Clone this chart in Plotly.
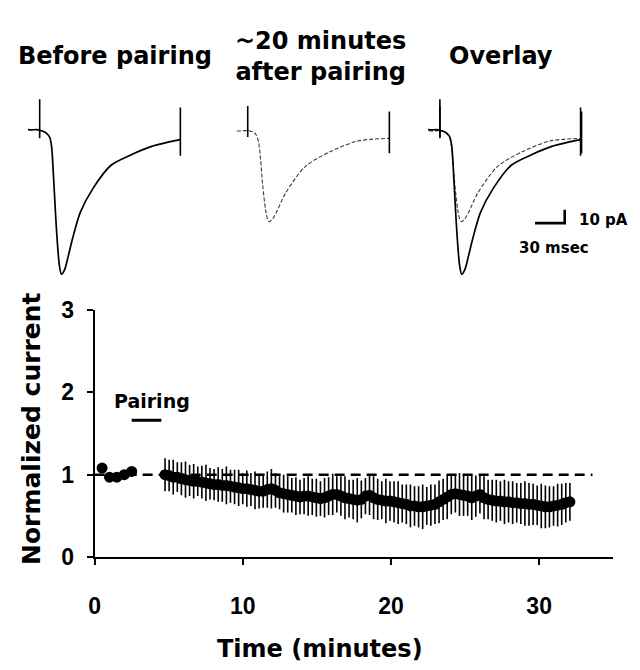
import plotly.graph_objects as go

# ---------------------------------------------------------------- data
# Example EPSCs (time in ms from stimulus, current in pA re: baseline)
before_ms = [-12, -8, -3, 0, 4, 8, 10, 12, 14, 16, 18, 20, 22, 25, 29, 33, 41, 54, 72, 93, 113, 142]
before_pa = [0.5, 0.3, 0.5, 0.0, -1, -3, -5, -12, -35, -62, -85, -101, -107, -104, -93, -81, -61, -43, -26, -18, -12, -7]
after_ms = [-11, -6, -2, 0, 4, 7, 9, 11, 13, 15, 18, 20, 22, 25, 29, 38, 58, 83, 111, 143]
after_pa = [-0.5, -0.5, -0.3, 0.0, -1, -2, -4, -9, -22, -40, -59, -66, -68, -66, -61, -47, -27, -16, -8, -6]

# Stimulus artifacts: (time ms, top pA, bottom pA)
before_artifacts = [(0, 23, -6), (142, 17, -19)]
after_artifacts = [(0, 18, -5), (143, 14, -17)]

# Scale bar sizes
SCALE_MS = 30
SCALE_PA = 10

# Time course: baseline samples (min) and normalized current
base_t = [0.5, 1.0, 1.5, 2.0, 2.5]
base_mean = [1.08, 0.97, 0.97, 1.00, 1.04]

# Post-pairing samples
POST_START_MIN = 4.75
SAMPLE_INTERVAL_MIN = 0.276
post_mean = [
    1.00, 0.99, 0.97, 0.97, 0.95, 0.94, 0.93, 0.92, 0.92, 0.91,
    0.90, 0.89, 0.88, 0.88, 0.87, 0.87, 0.86, 0.85, 0.84, 0.83,
    0.83, 0.82, 0.81, 0.80, 0.80, 0.82, 0.83, 0.81, 0.78, 0.77,
    0.76, 0.75, 0.74, 0.73, 0.74, 0.74, 0.73, 0.72, 0.71, 0.72,
    0.74, 0.76, 0.76, 0.74, 0.72, 0.71, 0.70, 0.69, 0.70, 0.74,
    0.75, 0.72, 0.70, 0.69, 0.68, 0.68, 0.67, 0.66, 0.65, 0.64,
    0.62, 0.62, 0.61, 0.61, 0.62, 0.63, 0.64, 0.67, 0.70, 0.73,
    0.76, 0.77, 0.76, 0.75, 0.74, 0.72, 0.74, 0.76, 0.72, 0.70,
    0.69, 0.68, 0.68, 0.67, 0.67, 0.66, 0.66, 0.65, 0.65, 0.64,
    0.64, 0.63, 0.62, 0.61, 0.61, 0.62, 0.63, 0.64, 0.66, 0.67,
]
post_sem = [
    0.20, 0.19, 0.21, 0.18, 0.20, 0.22, 0.19, 0.21, 0.18, 0.20,
    0.22, 0.19, 0.19, 0.21, 0.20, 0.23, 0.20, 0.21, 0.22, 0.19,
    0.22, 0.20, 0.23, 0.21, 0.20, 0.22, 0.24, 0.21, 0.20, 0.23,
    0.22, 0.21, 0.23, 0.21, 0.22, 0.24, 0.22, 0.23, 0.21, 0.24,
    0.23, 0.25, 0.22, 0.24, 0.26, 0.23, 0.24, 0.27, 0.23, 0.22,
    0.24, 0.26, 0.25, 0.23, 0.27, 0.24, 0.25, 0.26, 0.23, 0.24,
    0.26, 0.24, 0.25, 0.27, 0.23, 0.25, 0.24, 0.26, 0.25, 0.27,
    0.24, 0.23, 0.26, 0.25, 0.24, 0.27, 0.25, 0.23, 0.26, 0.24,
    0.25, 0.26, 0.24, 0.27, 0.25, 0.26, 0.24, 0.25, 0.27, 0.26,
    0.25, 0.24, 0.27, 0.26, 0.25, 0.24, 0.26, 0.25, 0.24, 0.23,
]
post_t = [round(POST_START_MIN + i * SAMPLE_INTERVAL_MIN, 3) for i in range(len(post_mean))]

pairing_window = [2.5, 4.5]
pairing_level = 1.66
reference_level = 1.0
reference_end = 33.6

x_ticks = [0, 10, 20, 30]
y_ticks = [0, 1, 2, 3]

# ---------------------------------------------------------------- layout helpers
W, H = 640, 670


def px(x):
    return x / W


def py(y):
    return 1 - y / H


TITLE_FONT = dict(family="DejaVu Sans", size=24, color="black", weight="bold")
TICK_FONT = dict(family="Liberation Sans", size=23, color="black", weight="bold")

fig = go.Figure()

# ---------------------------------------------------------------- example traces
panels = [("x2", [(before_ms, before_pa, "before")], [before_artifacts]),
          ("x3", [(after_ms, after_pa, "after")], [after_artifacts]),
          ("x4", [(after_ms, after_pa, "after"), (before_ms, before_pa, "before")],
           [after_artifacts, before_artifacts])]

for xa, series, arts in panels:
    for t, pa, kind in series:
        if kind == "before":
            line = dict(color="black", width=1.7, shape="spline", smoothing=0.8)
        else:
            line = dict(color="#3a3a3a", width=1.1, dash="4px,2px", shape="spline", smoothing=0.8)
        fig.add_trace(go.Scatter(x=t, y=pa, mode="lines", line=line,
                                 xaxis=xa, yaxis="y2", showlegend=False, hoverinfo="skip"))
    for art in arts:
        for ta, top, bot in art:
            fig.add_trace(go.Scatter(x=[ta, ta], y=[top, bot], mode="lines",
                                     line=dict(color="black", width=1.6),
                                     xaxis=xa, yaxis="y2", showlegend=False, hoverinfo="skip"))

# scale bar in the overlay panel
sb_t0, sb_pa0 = 96, -69
fig.add_trace(go.Scatter(x=[sb_t0, sb_t0 + SCALE_MS, sb_t0 + SCALE_MS],
                         y=[sb_pa0, sb_pa0, sb_pa0 + SCALE_PA],
                         mode="lines", line=dict(color="black", width=2.6),
                         xaxis="x4", yaxis="y2", showlegend=False, hoverinfo="skip"))

# ---------------------------------------------------------------- time course
fig.add_shape(type="line", xref="x", yref="y", x0=0, x1=reference_end,
              y0=reference_level, y1=reference_level,
              line=dict(color="black", width=2.4, dash="10px,6px"), layer="below")
fig.add_shape(type="line", xref="x", yref="y", x0=pairing_window[0], x1=pairing_window[1],
              y0=pairing_level, y1=pairing_level, line=dict(color="black", width=3))

fig.add_trace(go.Scatter(x=base_t, y=base_mean, mode="markers",
                         marker=dict(color="black", size=11),
                         showlegend=False, cliponaxis=False, hoverinfo="skip"))
fig.add_trace(go.Scatter(x=post_t, y=post_mean, mode="markers",
                         marker=dict(color="black", size=11),
                         error_y=dict(type="data", array=post_sem, visible=True,
                                      color="black", thickness=1.6, width=0),
                         showlegend=False, cliponaxis=False, hoverinfo="skip"))

# ---------------------------------------------------------------- axes
trace_axis = dict(visible=False, fixedrange=True)
fig.update_layout(
    width=W, height=H,
    margin=dict(l=0, r=0, t=0, b=0),
    paper_bgcolor="white", plot_bgcolor="white",
    xaxis=dict(domain=[px(89.5), px(613)], range=[0, 35], tickvals=x_ticks,
               ticks="outside", ticklen=6, tickwidth=2, tickcolor="black",
               showline=True, linewidth=2, linecolor="black", showgrid=False,
               zeroline=False, tickfont=TICK_FONT, ticklabelstandoff=21,
               anchor="y"),
    yaxis=dict(domain=[py(566), py(309)], range=[0, 3], tickvals=y_ticks,
               ticks="outside", ticklen=6, tickwidth=2, tickcolor="black",
               showline=True, linewidth=2, linecolor="black", showgrid=False,
               zeroline=False, tickfont=TICK_FONT, ticklabelstandoff=8,
               anchor="x"),
    xaxis2=dict(domain=[px(22), px(187)], range=[-12, 153], **trace_axis, anchor="y2"),
    xaxis3=dict(domain=[px(233), px(398)], range=[-11, 154], **trace_axis, anchor="y2"),
    xaxis4=dict(domain=[px(426), px(591)], range=[-12, 153], **trace_axis, anchor="y2"),
    yaxis2=dict(domain=[py(297), py(66)], range=[-125, 40], **trace_axis, anchor="x2"),
)

# ---------------------------------------------------------------- text
def label(text, x, y, font, xanchor="center", **kw):
    fig.add_annotation(text=text, x=px(x), y=py(y), xref="paper", yref="paper",
                       xanchor=xanchor, yanchor="middle",
                       showarrow=False, font=font, **kw)


label("Before pairing", 110, 45, TITLE_FONT)
label("~20 minutes<br>after pairing", 317, 45, TITLE_FONT)
label("Overlay", 500, 45, TITLE_FONT)

SB_FONT = dict(family="DejaVu Sans", size=15, color="black", weight="bold")
label("10 pA", 576, 215, SB_FONT, xanchor="left")
label("30 msec", 516, 244, SB_FONT, xanchor="left")

label("Normalized current", 25, 432, dict(TITLE_FONT, size=25), textangle=-90)
label("Time (minutes)", 317, 662, TITLE_FONT)

fig.add_annotation(text="Pairing", x=3.9, y=1.9, xref="x", yref="y", showarrow=False,
                   xanchor="center", yanchor="middle",
                   font=dict(family="DejaVu Sans", size=19, color="black", weight="bold"))

fig.write_html("out.html")
